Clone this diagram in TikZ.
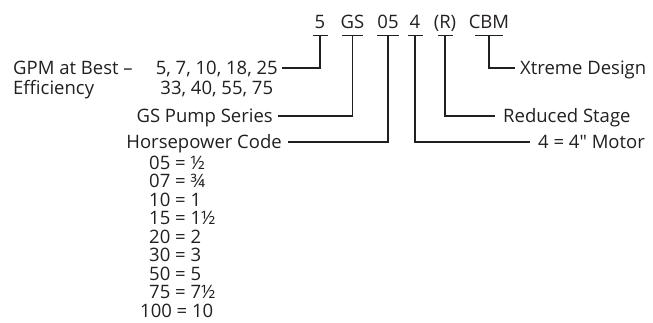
\documentclass[tikz,border=0pt]{standalone}
\usepackage{fontspec}
\setmainfont{Open Sans}[Ligatures=TeXOff]
\usepackage{tikz}
\usetikzlibrary{positioning}
\definecolor{codetexto}{HTML}{231F20}

\begin{document}
\begin{tikzpicture}[
    x=1pt, y=-1pt,
    every node/.style={font=\fontsize{18.5}{22}\selectfont, text=codetexto,
        inner sep=0pt, text height=13.2pt, text depth=0pt},
    codepart/.style={inner ysep=6.4pt},
    leader/.style={draw=codetexto, line width=1.2pt}
]
\useasboundingbox (0,0) rectangle (653,322);

% model code
\node[codepart] (c5)   at (320,22)   {5};
\node[codepart] (cGS)  at (352.5,22) {GS};
\node[codepart] (c05)  at (388,22)   {05};
\node[codepart] (c4)   at (415,22)   {4};
\node[codepart] (cR)   at (445,22)   {(R)};
\node[codepart] (cCBM) at (489,22)   {CBM};
\foreach \part/\half in {c5/7.5, cGS/10.5, c05/11, c4/7.5, cR/7.5, cCBM/14}
    \draw[leader] ([xshift=-\half pt]\part.south) -- ([xshift=\half pt]\part.south);

% left labels
\node[anchor=west] (gpmlabel) at (13,68) {GPM at Best –};
\node[anchor=west] (effic) at (13,88) {Efficiency};
\node[anchor=east, inner xsep=4pt] (gpmA) at (282,68) {5, 7, 10, 18, 25};
\node[below=6.6pt of gpmA] (gpmB) {33, 40, 55, 75};
\node[anchor=east, inner xsep=5pt] (series) at (278,116) {GS Pump Series};
\node[anchor=east, inner xsep=6pt] (hpcode) at (288,142) {Horsepower Code};

% horsepower list
\foreach \hpx/\hp [count=\i] in {149/05 = ½, 149/07 = ¾, 149/10 = 1, 149/15 = 1½,
    149/20 = 2, 149/30 = 3, 149/50 = 5, 149/75 = 7½, 140/100 = 10}
    \node[anchor=west] (hp\i) at (\hpx,{162.5+(\i-1)*18.55}) {\hp};

% right labels
\node[anchor=west, inner xsep=5pt] (xtreme) at (515,68) {Xtreme Design};
\node[anchor=west, inner xsep=8pt] (reduced) at (495,116) {Reduced Stage};
\node[anchor=west, inner xsep=8pt] (motor) at (530,142) {4 = 4" Motor};

% leaders
\draw[leader] (gpmA.east) -| (c5.south);
\draw[leader] (series.east) -| (cGS.south);
\draw[leader] (hpcode.east) -| (c05.south);
\draw[leader] (motor.west) -| (c4.south);
\draw[leader] (reduced.west) -| (cR.south);
\draw[leader] (xtreme.west) -| (cCBM.south);
\end{tikzpicture}
\end{document}
